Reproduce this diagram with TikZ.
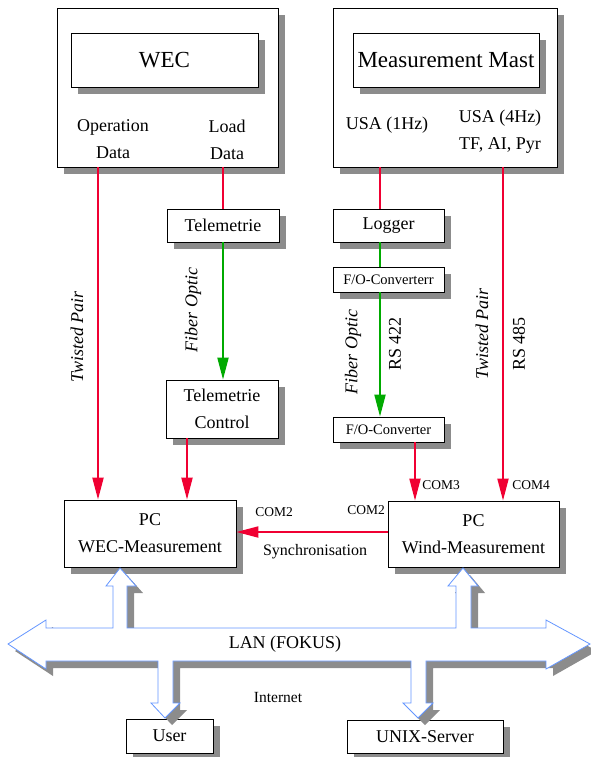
\documentclass[tikz,border=0pt]{standalone}
\usepackage{fontspec}
\setmainfont{Liberation Serif}
\usetikzlibrary{arrows.meta, shadows, calc}
\definecolor{lnred}{RGB}{240,0,50}
\definecolor{lngreen}{RGB}{0,170,0}
\definecolor{lanblue}{RGB}{100,150,255}
\definecolor{shgray}{RGB}{140,140,140}
\newcommand{\bigfnt}{\fontsize{23}{27}\selectfont}
\newcommand{\midfnt}{\fontsize{18}{27}\selectfont}
\newcommand{\convfnt}{\fontsize{14.5}{18}\selectfont}
\newcommand{\comfnt}{\fontsize{13.5}{16}\selectfont}
\tikzset{
  shbox/.style={rectangle, draw=black, fill=white, line width=0.8pt,
    inner sep=0pt, align=center, font=\midfnt,
    drop shadow={shadow xshift=7pt, shadow yshift=-7pt, fill=shgray, opacity=1}},
  lbl/.style={font=\midfnt, align=center, inner sep=0pt},
  vlbl/.style={font=\midfnt\itshape, rotate=90, inner sep=0pt},
  comlbl/.style={font=\comfnt, inner sep=0pt},
  redline/.style={lnred, line width=2pt},
  redarrow/.style={lnred, line width=2pt, -{Triangle[length=22pt, width=11pt]}},
  greenline/.style={lngreen, line width=2pt},
  greenarrow/.style={lngreen, line width=2pt, -{Triangle[length=22pt, width=11pt]}},
  lanarrow/.style={draw=lanblue, fill=white, line width=0.8pt,
    drop shadow={shadow xshift=7pt, shadow yshift=-7pt, fill=shgray, opacity=1}}
}
\begin{document}
\begin{tikzpicture}[x=1pt, y=-1pt, >=Stealth]
  \useasboundingbox (0,0) rectangle (591,757);

  % WEC container
  \node[shbox, minimum width=221pt, minimum height=159pt] (wecbox) at (167.5,87.5) {};
  \node[shbox, font=\bigfnt, minimum width=187pt, minimum height=54pt] (wectitle) at (164.5,60) {WEC};
  \node[lbl] (opdata) at (113,139.5) {Operation\\Data};
  \node[lbl] (loaddata) at (227,139.5) {Load\\Data};

  % Measurement mast container
  \node[shbox, minimum width=224pt, minimum height=159pt] (mmbox) at (445,87.5) {};
  \node[shbox, font=\bigfnt, minimum width=186pt, minimum height=54pt] (mmtitle) at (446,60) {Measurement Mast};
  \node[lbl] (usaone) at (387,125) {USA (1Hz)};
  \node[lbl] (usafour) at (500,131.5) {USA (4Hz)\\TF, AI, Pyr};

  % transmission chain
  \node[shbox, minimum width=112pt, minimum height=33pt] (tel) at (223,225.5) {Telemetrie};
  \node[shbox, minimum width=112pt, minimum height=58pt] (telctl) at (222,409) {Telemetrie\\Control};
  \node[shbox, minimum width=111pt, minimum height=33pt] (logger) at (388.5,225.5) {Logger};
  \node[shbox, font=\convfnt, minimum width=111pt, minimum height=25pt] (foca) at (388.5,279.5) {F/O-Converterr};
  \node[shbox, font=\convfnt, minimum width=111pt, minimum height=25pt] (focb) at (388.5,429.5) {F/O-Converter};

  % measurement PCs
  \node[shbox, minimum width=172pt, minimum height=67pt] (pcwec) at (150,533.5) {PC\\WEC-Measurement};
  \node[shbox, minimum width=171pt, minimum height=66pt] (pcwind) at (473.5,534) {PC\\Wind-Measurement};

  % network clients
  \node[shbox, minimum width=87pt, minimum height=34pt] (user) at (169.5,736) {User};
  \node[shbox, minimum width=156pt, minimum height=33pt] (unix) at (425,736.5) {UNIX-Server};

  % line positions
  \coordinate (opx) at (98,0);
  \coordinate (tcx) at (187,0);
  \coordinate (usx) at (380,0);
  \coordinate (fox) at (415,0);
  \coordinate (rsx) at (503,0);
  \coordinate (syny) at (0,532);

  \draw[redarrow] (opx |- wecbox.south) -- (opx |- pcwec.north);
  \draw[redline] (tel.north |- wecbox.south) -- (tel.north);
  \draw[greenarrow] (tel.south) -- (tel.south |- telctl.north);
  \draw[redarrow] (tcx |- telctl.south) -- (tcx |- pcwec.north);
  \draw[redline] (usx |- mmbox.south) -- (usx |- logger.north);
  \draw[greenline] (usx |- logger.south) -- (usx |- foca.north);
  \draw[greenarrow] (usx |- foca.south) -- (usx |- focb.north);
  \draw[redarrow] (fox |- focb.south) -- (fox |- pcwind.north);
  \draw[redarrow] (rsx |- mmbox.south) -- (rsx |- pcwind.north);
  \draw[redarrow] (syny -| pcwind.west) -- (syny -| pcwec.east);

  % cable labels
  \node[vlbl] (tpa) at (77,337) {Twisted Pair};
  \node[vlbl] (foa) at (193,310) {Fiber Optic};
  \node[vlbl] (fob) at (353,352) {Fiber Optic};
  \node[vlbl, font=\midfnt] (rsa) at (395,344) {RS 422};
  \node[vlbl] (tpb) at (482,334) {Twisted Pair};
  \node[vlbl, font=\midfnt] (rsb) at (519,344) {RS 485};

  % ports
  \node[comlbl] (comthree) at (441,485) {COM3};
  \node[comlbl] (comfour) at (531,485) {COM4};
  \node[comlbl] (comtwoa) at (274,512) {COM2};
  \node[comlbl, anchor=east] (comtwob) at (385,510) {COM2};
  \node[lbl, font=\fontsize{16}{18}\selectfont] (sync) at (315,552) {Synchronisation};

  % LAN block arrow
  \draw[lanarrow] (8,644) -- (46,620) -- (46,628) -- (113,628) -- (113,586) -- (106,586)
    -- (120,568) -- (136,586) -- (127,586) -- (127,628) -- (456,628) -- (456,586)
    -- (448,586) -- (463,568) -- (478,586) -- (471,586) -- (471,628) -- (546,628)
    -- (546,620) -- (590,644) -- (546,669) -- (546,661) -- (426,661) -- (426,703)
    -- (433,703) -- (418,718) -- (403,703) -- (411,703) -- (411,661) -- (173,661)
    -- (173,703) -- (180,703) -- (165,718) -- (151,703) -- (158,703) -- (158,661)
    -- (46,661) -- (46,669) -- cycle;
  \node[lbl] (lan) at (285,644) {LAN (FOKUS)};
  \node[lbl, font=\fontsize{15.5}{18}\selectfont] (inet) at (278,697) {Internet};
\end{tikzpicture}
\end{document}
